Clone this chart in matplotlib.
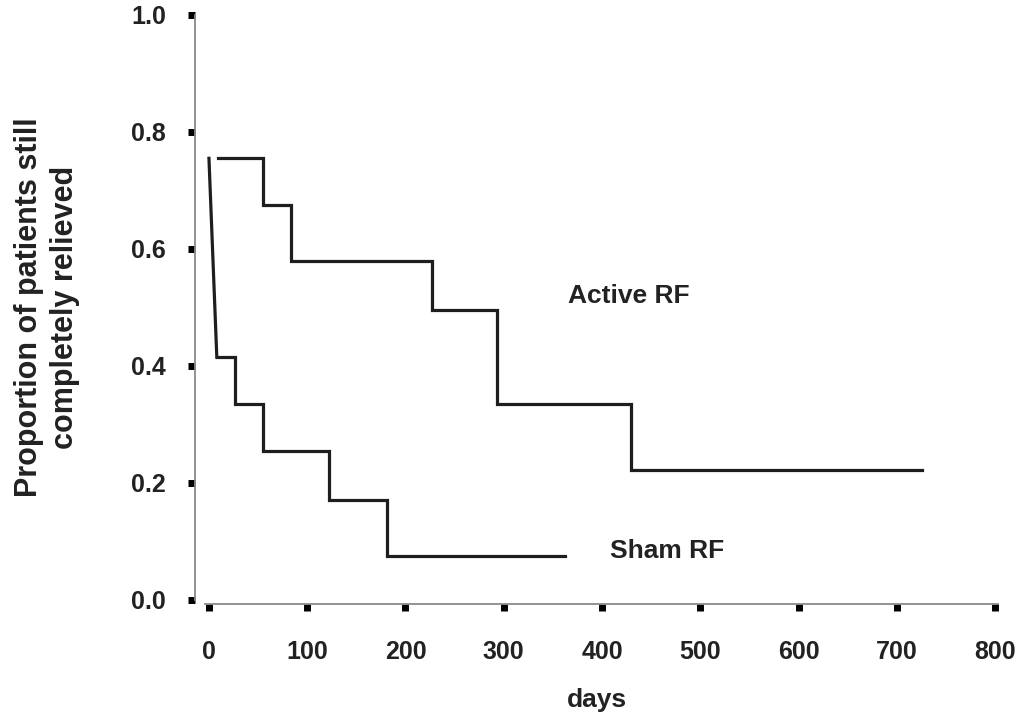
import matplotlib
matplotlib.use("Agg")
import matplotlib.pyplot as plt

# Fuente tipo Arial en negrita
plt.rcParams['font.family'] = ['Liberation Sans', 'DejaVu Sans']
plt.rcParams['font.weight'] = 'bold'

# Datos (días, proporción)
active_days = [9, 55, 84, 227, 293, 430, 726]
active_prop = [0.755, 0.675, 0.58, 0.495, 0.335, 0.222, 0.222]
sham_days = [0, 8, 26, 55, 122, 181, 362]
sham_prop = [0.755, 0.415, 0.335, 0.255, 0.17, 0.075, 0.075]
xticks = [0, 100, 200, 300, 400, 500, 600, 700, 800]
yticks = [0.0, 0.2, 0.4, 0.6, 0.8, 1.0]

fig = plt.figure(figsize=(10.19, 7.15), dpi=100)
ax = fig.add_axes([195/1019, 111/715, 803/1019, 589/715])
lc = '#1e1e1e'; lw = 2.3

# Curvas
ax.step(active_days, active_prop, where='post', color=lc, lw=lw, solid_joinstyle='miter')
ax.plot(sham_days[:2], sham_prop[:2], color=lc, lw=lw)
ax.step(sham_days[1:], sham_prop[1:], where='post', color=lc, lw=lw, solid_joinstyle='miter')

# Textos de las curvas
ax.text(427, 0.52, 'Active RF', fontsize=19, color='#222222', ha='center', va='center')
ax.text(466, 0.084, 'Sham RF', fontsize=19, color='#222222', ha='center', va='center')

# Ejes
ax.set_xlim(-14.2, 803); ax.set_ylim(-0.007, 1.0)
ax.spines['top'].set_visible(False); ax.spines['right'].set_visible(False)
for s in ['left', 'bottom']:
    ax.spines[s].set_color('#8a8a8a'); ax.spines[s].set_linewidth(1.3)
ax.spines['left'].set_bounds(0, 1.0)
ax.spines['bottom'].set_bounds(-4, 803)
ax.set_xticks(xticks); ax.set_xticklabels([str(v) for v in xticks])
ax.set_yticks(yticks); ax.set_yticklabels([f"{v:.1f}" for v in yticks])
ax.tick_params(axis='y', direction='out', length=5, width=5, color='black', pad=16,
               labelsize=18, labelcolor='#222222')
ax.tick_params(axis='x', direction='out', length=5, width=5, color='black', pad=21,
               labelsize=18, labelcolor='#222222')

ax.set_xlabel('days', fontsize=19, fontweight='bold', color='#222222')
ax.xaxis.set_label_coords(0.5, -0.143)
fig.text(47/1019, 1 - 307/715, 'Proportion of patients still\ncompletely relieved',
         rotation=90, ha='center', va='center', multialignment='center',
         fontsize=22, fontweight='bold', color='#222222', linespacing=1.25)

fig.savefig('out.png', dpi=100)
